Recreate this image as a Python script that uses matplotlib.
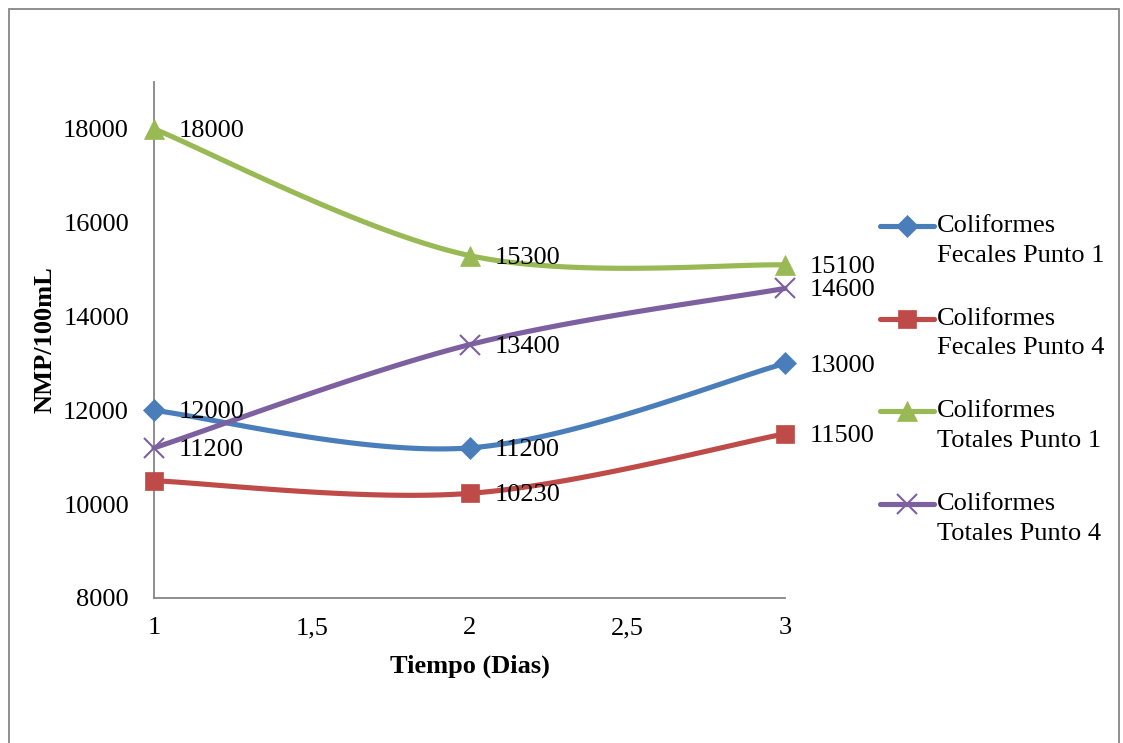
import numpy as np
import matplotlib.pyplot as plt
from matplotlib.lines import Line2D
from matplotlib.patches import Rectangle
from matplotlib.ticker import FuncFormatter

plt.rcParams['font.family'] = ['Liberation Serif', 'DejaVu Serif']

# data
dias = [1, 2, 3]
fecales_p1 = [12000, 11200, 13000]
fecales_p4 = [10500, 10230, 11500]
totales_p1 = [18000, 15300, 15100]
totales_p4 = [11200, 13400, 14600]

series_names = ["Coliformes\nFecales Punto 1", "Coliformes\nFecales Punto 4",
                "Coliformes\nTotales Punto 1", "Coliformes\nTotales Punto 4"]
series_values = [fecales_p1, fecales_p4, totales_p1, totales_p4]
# which points carry a data label (first red point has none)
show_label = [[True, True, True], [False, True, True], [True, True, True], [True, True, True]]

colors = ['#4A7EBB', '#BE4B48', '#98B954', '#7D60A0']
markers = ['D', 's', '^', 'x']
msizes = [11, 13, 14, 14]
FS = 19


# Excel-like smoothed line: cubic bezier through the points (catmull-rom tangents)
def smooth_curve(x, y, n=60):
    p = np.column_stack([x, y]).astype(float)
    ext = np.vstack([p[0], p, p[-1]])
    out = []
    for i in range(len(p) - 1):
        p0, p1, p2, p3 = ext[i], ext[i + 1], ext[i + 2], ext[i + 3]
        c1 = p1 + (p2 - p0) / 6
        c2 = p2 - (p3 - p1) / 6
        t = np.linspace(0, 1, n)[:, None]
        seg = ((1 - t) ** 3) * p1 + 3 * ((1 - t) ** 2) * t * c1 + 3 * (1 - t) * t ** 2 * c2 + t ** 3 * p2
        out.append(seg)
    out = np.vstack(out)
    return out[:, 0], out[:, 1]


fig = plt.figure(figsize=(11.23, 7.43), dpi=100)
ax = fig.add_axes([154 / 1123, 1 - 598 / 743, (785 - 154) / 1123, (598 - 82) / 743])

for vals, col, mk, ms, flags in zip(series_values, colors, markers, msizes, show_label):
    sx, sy = smooth_curve(dias, vals)
    ax.plot(sx, sy, color=col, lw=3.7, solid_capstyle='round', zorder=2, clip_on=False)
    ax.plot(dias, vals, linestyle='none', marker=mk, markersize=ms, color=col,
            markeredgewidth=1.5 if mk == 'x' else 0.5, zorder=3, clip_on=False)
    for xv, yv, f in zip(dias, vals, flags):
        if f:
            ax.annotate(str(yv), (xv, yv), xytext=(18, -1.5), textcoords='offset points',
                        ha='left', va='center', fontsize=FS, zorder=4)

ax.set_xlim(1, 3)
ax.set_ylim(8000, 19000)
ax.set_xticks([1, 1.5, 2, 2.5, 3])
ax.set_yticks(range(8000, 18001, 2000))
ax.xaxis.set_major_formatter(FuncFormatter(lambda v, p: f"{v:g}".replace('.', ',')))
ax.tick_params(axis='both', length=0, labelsize=FS)
ax.tick_params(axis='x', pad=14)
ax.tick_params(axis='y', pad=18)
for s in ['top', 'right']:
    ax.spines[s].set_visible(False)
for s in ['left', 'bottom']:
    ax.spines[s].set_color('#868686')
    ax.spines[s].set_linewidth(1.3)

ax.set_xlabel('Tiempo (Dias)', fontsize=FS, fontweight='bold', labelpad=11)
ax.set_ylabel('NMP/100mL', fontsize=FS, fontweight='bold', labelpad=5)

# legend drawn by hand so the marker sits on the first text line
W, H = 1123, 743
for i, (name, col, mk, ms) in enumerate(zip(series_names, colors, markers, msizes)):
    yp = 226 + i * 92.7
    fy = 1 - yp / H
    fig.add_artist(Line2D([880 / W, 934 / W], [fy, fy], color=col, lw=3.7, solid_capstyle='round'))
    fig.add_artist(Line2D([907 / W], [fy], marker=mk, markersize=ms, color=col,
                          markeredgewidth=1.5 if mk == 'x' else 0.5, linestyle='none'))
    fig.text(937 / W, 1 - (yp - 11) / H, name, ha='left', va='top', fontsize=FS, linespacing=1.45)

# outer chart frame
fig.add_artist(Rectangle((9 / W, -0.01), (1119 - 9) / W, 1 - 9 / H + 0.01, transform=fig.transFigure,
                         fill=False, edgecolor='#878787', lw=1.3))

fig.savefig('out.png', dpi=100)
